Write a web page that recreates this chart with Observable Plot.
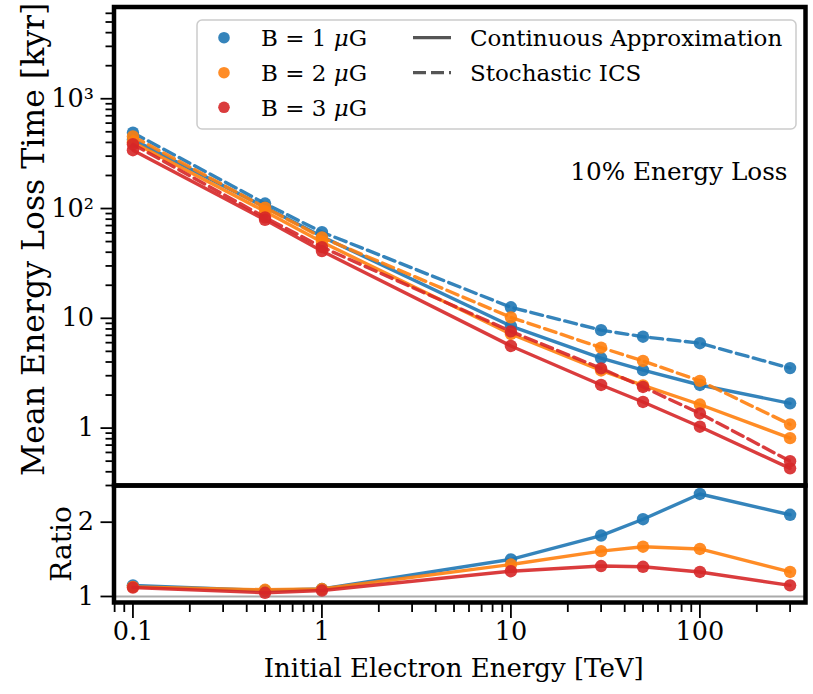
<!DOCTYPE html>
<html><head><meta charset="utf-8">
<script src="https://cdn.jsdelivr.net/npm/d3@7"></script>
<script src="https://cdn.jsdelivr.net/npm/@observablehq/plot@0.6"></script>
<style>
html,body{margin:0;padding:0;background:#fff;}
#wrap{position:relative;width:813px;height:694px;font-family:"DejaVu Serif",serif;}
#wrap svg{position:absolute;left:0;top:0;}
</style></head><body><div id="wrap"></div>
<script>
// ---- data ----
const energies = [0.1, 0.5, 1, 10, 30, 50, 100, 300];
const fieldLabels = ["B = 1 μG", "B = 2 μG", "B = 3 μG"];
const fieldColors = ["#1f77b4", "#ff7f0e", "#d62728"];
const continuousB1 = [426, 103, 55.5, 8.5, 4.33, 3.37, 2.47, 1.68];
const stochasticB1 = [490, 111, 61, 12.6, 7.8, 6.8, 5.93, 3.52];
const continuousB2 = [402, 94, 49.5, 7.2, 3.35, 2.45, 1.64, 0.81];
const stochasticB2 = [454, 102, 54.5, 10.2, 5.41, 4.09, 2.69, 1.08];
const continuousB3 = [340, 79, 41, 5.6, 2.47, 1.73, 1.03, 0.43];
const stochasticB3 = [385, 83, 44.5, 7.6, 3.5, 2.37, 1.36, 0.50];
const ratioB1 = [1.15, 1.08, 1.10, 1.50, 1.82, 2.04, 2.38, 2.10];
const ratioB2 = [1.13, 1.09, 1.10, 1.43, 1.61, 1.67, 1.64, 1.33];
const ratioB3 = [1.12, 1.05, 1.08, 1.34, 1.41, 1.40, 1.33, 1.15];
const topTicks = [1, 10, 100, 1000];
const topTickLabels = ["1", "10", "10²", "10³"];
const ratioTicks = [1, 2];
const ratioTickLabels = ["1", "2"];
const xTicks = [0.1, 1, 10, 100];
const xTickLabels = ["0.1", "1", "10", "100"];
const lineKinds = ["Continuous Approximation", "Stochastic ICS"];
const annotation = "10% Energy Loss";
const yLabelTop = "Mean Energy Loss Time [kyr]";
const yLabelBottom = "Ratio";
const xLabel = "Initial Electron Energy [TeV]";

// ---- tables ----
const contSets = [continuousB1, continuousB2, continuousB3];
const stochSets = [stochasticB1, stochasticB2, stochasticB3];
const ratioSets = [ratioB1, ratioB2, ratioB3];
const mk = (arr, i) => arr.map((v, j) => ({E: energies[j], v, color: fieldColors[i], key: fieldLabels[i]}));

function minorTicks(lo, hi) {
  const out = [];
  for (let d = -3; d <= 5; d++) for (let k = 2; k <= 9; k++) {
    const t = k * Math.pow(10, d);
    if (t >= lo && t <= hi) out.push(t);
  }
  return out;
}

const W = 813, H = 694;
const L = 113.5, R = W - 805;
const topTop = 6.5, split = 485, botBottom = 602;
const xDomain = [0.0794, 362];
const font = {fontFamily: "DejaVu Serif", fontSize: "25.5px", background: "transparent", overflow: "visible", color: "black"};
const LW = 3.4, DOT = 6.2;

const topMarks = [];
for (let i = 0; i < 3; i++) {
  const c = mk(contSets[i], i), s = mk(stochSets[i], i);
  topMarks.push(
    Plot.line(c, {x: "E", y: "v", stroke: "color", strokeWidth: LW, strokeOpacity: 0.9}),
    Plot.dot(c, {x: "E", y: "v", fill: "color", r: DOT, fillOpacity: 0.9}),
    Plot.line(s, {x: "E", y: "v", stroke: "color", strokeWidth: LW, strokeOpacity: 0.9, strokeDasharray: "12,5.5"}),
    Plot.dot(s, {x: "E", y: "v", fill: "color", r: DOT, fillOpacity: 0.9})
  );
}
const yDomainTop = [0.30, 6850];
topMarks.push(
  Plot.axisY(minorTicks(yDomainTop[0], yDomainTop[1]), {tickSize: 8, tickFormat: () => "", label: null, strokeWidth: 1.8}),
  Plot.axisY(topTicks, {tickSize: 13, tickPadding: 7, strokeWidth: 1.8, label: null,
    tickFormat: d => topTickLabels[topTicks.indexOf(d)]}),
  Plot.text([annotation], {frameAnchor: "top-right", textAnchor: "end", lineAnchor: "middle", dx: -18, dy: 165, fontSize: 24.7}),
  Plot.text([yLabelTop], {frameAnchor: "left", rotate: -90, textAnchor: "middle", dx: -80, dy: -7, lineAnchor: "middle", fontSize: 31.5}),
  Plot.frame({stroke: "black", strokeWidth: 4.5})
);

const topPlot = Plot.plot({
  width: W, height: H,
  marginLeft: L, marginRight: R, marginTop: topTop, marginBottom: H - split,
  x: {type: "log", domain: xDomain, axis: null},
  y: {type: "log", domain: yDomainTop},
  color: {type: "identity"},
  style: font,
  marks: topMarks
});

const botMarks = [Plot.ruleY([1], {stroke: "#aaaaaa", strokeWidth: 2.2})];
for (let i = 0; i < 3; i++) {
  const r = mk(ratioSets[i], i);
  botMarks.push(
    Plot.line(r, {x: "E", y: "v", stroke: "color", strokeWidth: LW, strokeOpacity: 0.9}),
    Plot.dot(r, {x: "E", y: "v", fill: "color", r: DOT, fillOpacity: 0.9})
  );
}
botMarks.push(
  Plot.axisX(minorTicks(xDomain[0], xDomain[1]), {anchor: "bottom", tickSize: 10, tickFormat: () => "", label: null, strokeWidth: 1.8}),
  Plot.axisX(xTicks, {anchor: "bottom", tickSize: 16, tickPadding: 3, strokeWidth: 1.8, label: null,
    tickFormat: d => xTickLabels[xTicks.indexOf(d)]}),
  Plot.axisY(ratioTicks, {tickSize: 13, tickPadding: 7, strokeWidth: 1.8, label: null,
    tickFormat: d => ratioTickLabels[ratioTicks.indexOf(d)]}),
  Plot.text([xLabel], {frameAnchor: "bottom", textAnchor: "middle", lineAnchor: "middle", dx: -6, dy: 66, fontSize: 26}),
  Plot.text([yLabelBottom], {frameAnchor: "left", rotate: -90, textAnchor: "middle", dx: -52, lineAnchor: "middle", fontSize: 28}),
  Plot.frame({stroke: "black", strokeWidth: 4.5})
);

const botPlot = Plot.plot({
  width: W, height: H,
  marginLeft: L, marginRight: R, marginTop: split, marginBottom: H - botBottom,
  x: {type: "log", domain: xDomain},
  y: {domain: [0.919, 2.494]},
  color: {type: "identity"},
  style: font,
  marks: botMarks
});

const wrap = document.getElementById("wrap");
wrap.appendChild(botPlot);
wrap.appendChild(topPlot);

// ---- legend ----
const ns = "http://www.w3.org/2000/svg";
const lg = document.createElementNS(ns, "svg");
lg.setAttribute("width", W); lg.setAttribute("height", H);
lg.setAttribute("font-family", "DejaVu Serif"); lg.setAttribute("font-size", "23");
function el(tag, attrs, text) {
  const e = document.createElementNS(ns, tag);
  for (const k in attrs) e.setAttribute(k, attrs[k]);
  if (text != null) e.textContent = text;
  lg.appendChild(e); return e;
}
el("rect", {x: 197, y: 20, width: 599, height: 109, rx: 5, fill: "white", "fill-opacity": 0.85, stroke: "#cccccc", "stroke-width": 1.5});
const rows = [37.7, 72.7, 107.3];
fieldLabels.forEach((lab, i) => {
  el("circle", {cx: 224, cy: rows[i], r: 5.8, fill: fieldColors[i], "fill-opacity": 0.9});
  const t = el("text", {x: 261, y: rows[i] + 8.5});
  const parts = lab.split("μ");
  const a = document.createElementNS(ns, "tspan"); a.textContent = parts[0]; t.appendChild(a);
  const m = document.createElementNS(ns, "tspan"); m.textContent = "μ"; m.setAttribute("font-style", "italic"); t.appendChild(m);
  const b = document.createElementNS(ns, "tspan"); b.textContent = parts[1]; t.appendChild(b);
});
lineKinds.forEach((lab, i) => {
  el("line", {x1: 413, x2: 451, y1: rows[i], y2: rows[i], stroke: "#555555", "stroke-width": 3.2, "stroke-dasharray": i ? "13,5" : "none"});
  el("text", {x: 470, y: rows[i] + 8.5}, lab);
});
wrap.appendChild(lg);
</script></body></html>
